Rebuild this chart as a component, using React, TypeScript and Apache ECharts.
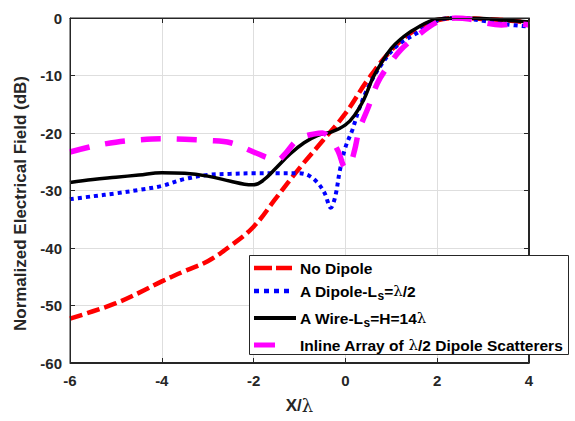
import React, { useEffect, useRef } from "react";
import * as echarts from "echarts";

const noDipoleX = [-6, -5.5, -5, -4.5, -4, -3.5, -3, -2.5, -2, -1.5, -1, -0.5, 0, 0.5, 1, 1.5, 2, 2.5, 3, 3.5, 4];
const noDipoleY = [-52.3, -51, -49.6, -47.8, -45.8, -44, -42.3, -39.6, -36.3, -31.2, -26.1, -21.4, -16.6, -10.6, -5.6, -2.2, -0.4, 0, -0.2, -0.4, -0.8];

const dipoleX = [-6, -5.5, -5, -4.5, -4, -3.5, -3, -2.5, -2, -1.5, -1, -0.8, -0.6, -0.45, -0.32, -0.22, -0.12, 0, 0.15, 0.3, 0.5, 0.75, 1.1, 1.6, 2, 2.5, 3, 3.5, 4];
const dipoleY = [-31.5, -31, -30.5, -29.9, -29.2, -28, -27.3, -27.1, -27, -27, -27, -27.4, -28.7, -30.5, -33, -31, -26.5, -22.5, -19.5, -15.8, -12, -8.5, -5, -2.4, -0.4, 0, -0.5, -1.1, -1.5];

const wireX = [-6, -5.5, -5, -4.5, -4, -3.5, -3, -2.5, -2.2, -2, -1.8, -1.5, -1.2, -0.9, -0.6, -0.3, 0, 0.2, 0.4, 0.6, 0.8, 1, 1.2, 1.5, 2, 2.5, 3, 3.5, 4];
const wireY = [-28.6, -28.1, -27.7, -27.3, -26.9, -27, -27.5, -28.4, -28.9, -29, -28.3, -26, -23.6, -21.7, -20.4, -19.8, -18.6, -16.9, -14.2, -10.4, -7.6, -5.3, -3.7, -2, -0.2, 0, -0.1, -0.4, -0.7];

const arrayX = [-6, -5.5, -5, -4.5, -4, -3.5, -3, -2.5, -2, -1.7, -1.5, -1.3, -1.1, -0.9, -0.7, -0.5, -0.3, -0.15, 0, 0.1, 0.2, 0.3, 0.5, 0.7, 0.9, 1.2, 1.5, 2, 2.4, 2.7, 3, 3.4, 3.7, 4];
const arrayY = [-23.3, -22.3, -21.6, -21.2, -21, -21.1, -21.3, -21.7, -23.3, -24.3, -24.8, -23.5, -21.6, -20.6, -20.2, -20, -21.3, -23.3, -26, -25.5, -23, -19.5, -15.5, -11.3, -8.7, -5.6, -3.5, -0.7, 0, -0.2, -0.8, -1.2, -1.0, -1.2];

const xTicks = { min: -6, max: 4, interval: 2 };
const yTicks = { min: -60, max: 0, interval: 10 };

const zip = (xs: number[], ys: number[]) => xs.map((x, i) => [x, ys[i]]);

const AXIS_COLOR = "#262626";
const FONT = "'Liberation Sans', Arial, sans-serif";

export default function App() {
  const ref = useRef<HTMLDivElement>(null);
  useEffect(() => {
    if (!ref.current) return;
    const chart = echarts.init(ref.current, undefined, { renderer: "svg" });
    const axisLine = () => ({ show: true, onZero: false, lineStyle: { color: AXIS_COLOR, width: 1 } });
    const tick = () => ({ show: true, inside: true, length: 5, lineStyle: { color: AXIS_COLOR } });
    const labelStyle = { color: AXIS_COLOR, fontWeight: "bold" as const, fontSize: 15, fontFamily: FONT };
    const rich = {
      n: { fontFamily: FONT, fontWeight: "bold", fontSize: 15.5, color: "#000", lineHeight: 22, verticalAlign: "middle" },
      s: { fontFamily: FONT, fontWeight: "bold", fontSize: 12, color: "#000", lineHeight: 22, verticalAlign: "bottom" },
      l: { fontFamily: "'DejaVu Serif', serif", fontWeight: "normal", fontSize: 15, color: "#000", lineHeight: 22, verticalAlign: "middle" },
    };
    const legendRows = [
      { y: 268, text: "{n|No Dipole}" },
      { y: 291, text: "{n|A Dipole-L}{s|s}{n|=}{l|λ}{n|/2}" },
      { y: 318, text: "{n|A Wire-L}{s|s}{n|=H=14}{l|λ}" },
      { y: 345, text: "{n|Inline Array of }{l|λ}{n|/2 Dipole Scatterers}" },
    ];
    chart.setOption({
      animation: false,
      backgroundColor: "#fff",
      grid: { left: 70, right: 46, top: 18, bottom: 58, show: true, borderColor: AXIS_COLOR, borderWidth: 1, backgroundColor: "transparent" },
      xAxis: [
        {
          type: "value",
          ...xTicks,
          position: "bottom",
          axisLine: axisLine(),
          axisTick: tick(),
          axisLabel: { ...labelStyle, margin: 10 },
          splitLine: { show: true, lineStyle: { color: "#dedede", width: 1 } },
          name: "{a|X/}{b|λ}",
          nameLocation: "middle",
          nameGap: 33,
          nameTextStyle: {
            rich: {
              a: { fontFamily: FONT, fontWeight: "bold", fontSize: 17, color: AXIS_COLOR },
              b: { fontFamily: "'DejaVu Serif', serif", fontSize: 18, color: AXIS_COLOR },
            },
          },
        },
        {
          type: "value",
          ...xTicks,
          position: "top",
          axisLine: axisLine(),
          axisTick: tick(),
          axisLabel: { show: false },
          splitLine: { show: false },
        },
      ],
      yAxis: [
        {
          type: "value",
          ...yTicks,
          position: "left",
          axisLine: axisLine(),
          axisTick: tick(),
          axisLabel: { ...labelStyle, margin: 8 },
          splitLine: { show: true, lineStyle: { color: "#dedede", width: 1 } },
          name: "Normalized Electrical Field (dB)",
          nameLocation: "middle",
          nameGap: 37,
          nameTextStyle: { fontFamily: FONT, fontWeight: "bold", fontSize: 17, color: AXIS_COLOR, padding: [0, 26, 0, 0] },
        },
        {
          type: "value",
          ...yTicks,
          position: "right",
          axisLine: axisLine(),
          axisTick: tick(),
          axisLabel: { show: false },
          splitLine: { show: false },
        },
      ],
      series: [
        {
          name: "No Dipole",
          type: "line",
          data: zip(noDipoleX, noDipoleY),
          smooth: 0.4,
          showSymbol: false,
          lineStyle: { color: "#ff0000", width: 4.5, type: [13, 5] },
          z: 3,
        },
        {
          name: "A Dipole-Ls=λ/2",
          type: "line",
          data: zip(dipoleX, dipoleY),
          smooth: 0.35,
          showSymbol: false,
          lineStyle: { color: "#0000ff", width: 4, type: [4, 4] },
          z: 4,
        },
        {
          name: "A Wire-Ls=H=14λ",
          type: "line",
          data: zip(wireX, wireY),
          smooth: 0.4,
          showSymbol: false,
          lineStyle: { color: "#000000", width: 3.5 },
          z: 5,
        },
        {
          name: "Inline Array of λ/2 Dipole Scatterers",
          type: "line",
          data: zip(arrayX, arrayY),
          smooth: 0.35,
          showSymbol: false,
          lineStyle: { color: "#ff00ff", width: 5.5, type: [20, 16] },
          z: 6,
        },
      ],
      graphic: [
        {
          type: "rect",
          shape: { x: 249.5, y: 255.5, width: 319, height: 99 },
          style: { fill: "#fff", stroke: AXIS_COLOR, lineWidth: 1 },
          z: 100,
        },
        { type: "line", shape: { x1: 254, y1: 268, x2: 292, y2: 268 }, style: { stroke: "#ff0000", lineWidth: 4.5, lineDash: [18, 4] }, z: 101 },
        { type: "line", shape: { x1: 254, y1: 291, x2: 294, y2: 291 }, style: { stroke: "#0000ff", lineWidth: 4.5, lineDash: [5, 5] }, z: 101 },
        { type: "line", shape: { x1: 254, y1: 318, x2: 296, y2: 318 }, style: { stroke: "#000000", lineWidth: 4 }, z: 101 },
        { type: "line", shape: { x1: 254, y1: 345, x2: 275, y2: 345 }, style: { stroke: "#ff00ff", lineWidth: 5 }, z: 101 },
        ...legendRows.map((r) => ({
          type: "text",
          x: 300,
          y: r.y,
          style: { text: r.text, rich, align: "left", verticalAlign: "middle" },
          z: 101,
        })),
      ],
    });
    // plot-area frame, located through the axes' own scales
    const tl = chart.convertToPixel({ gridIndex: 0 }, [xTicks.min, yTicks.max]) as number[];
    const br = chart.convertToPixel({ gridIndex: 0 }, [xTicks.max, yTicks.min]) as number[];
    if (tl && br) {
      const x0 = Math.round(tl[0]) + 0.5;
      const y0 = Math.round(tl[1]) + 0.5;
      const x1 = Math.round(br[0]) - 0.5;
      const y1 = Math.round(br[1]) - 0.5;
      chart.setOption({
        graphic: [
          {
            id: "frame",
            type: "rect",
            shape: { x: x0, y: y0, width: x1 - x0, height: y1 - y0 },
            style: { fill: "none", stroke: AXIS_COLOR, lineWidth: 1 },
            z: 50,
            silent: true,
          },
        ],
      });
    }
    return () => chart.dispose();
  }, []);
  return (
    <div
      ref={ref}
      style={{ position: "absolute", left: 0, top: 0, width: 575, height: 421, background: "#fff" }}
    />
  );
}
